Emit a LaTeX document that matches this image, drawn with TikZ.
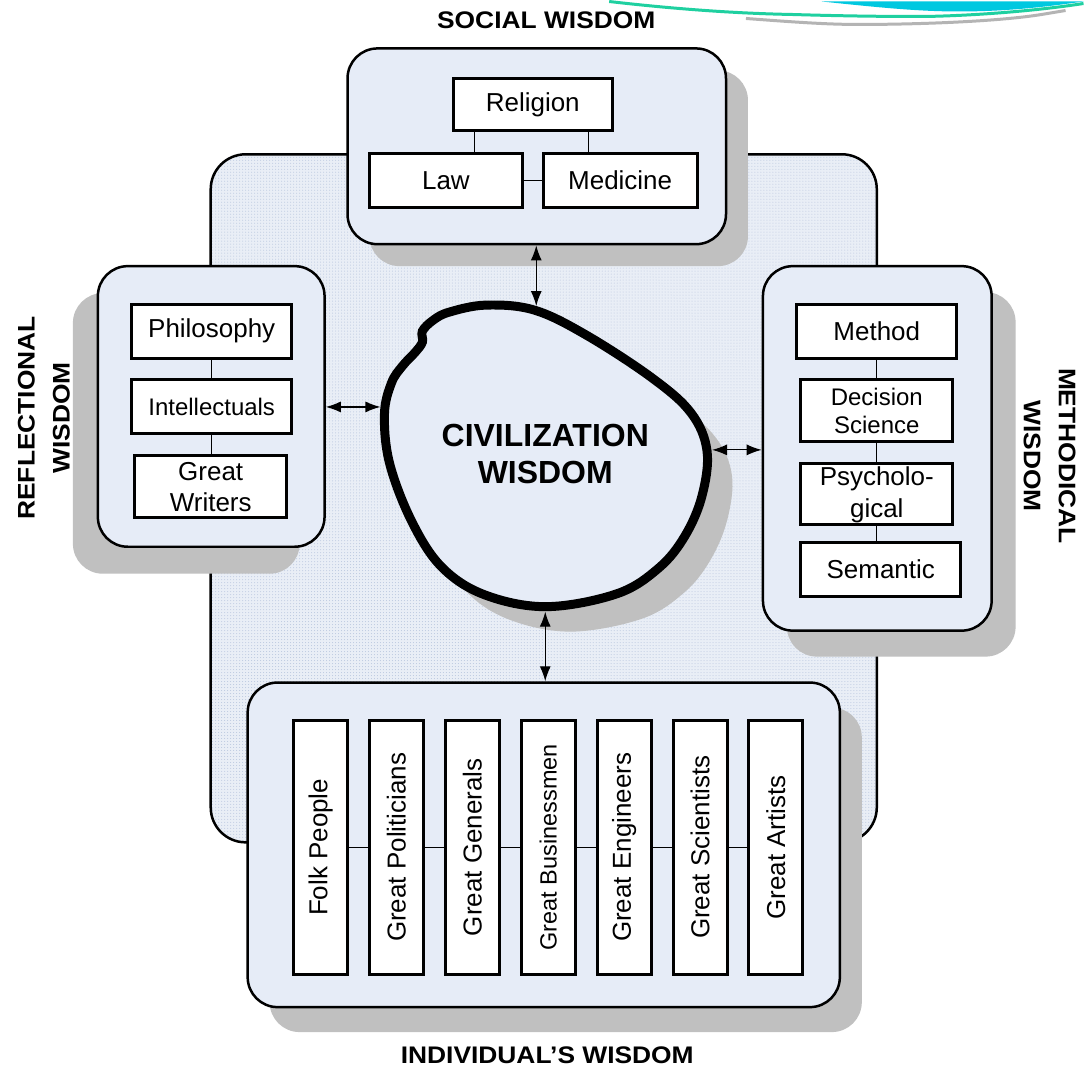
\documentclass[tikz,border=0pt]{standalone}
\usepackage{fontspec}
\setmainfont{Liberation Sans}
\newfontfamily\titlefont[FakeStretch=1.1]{Liberation Sans}
\usetikzlibrary{arrows.meta,shadows,patterns}
\definecolor{panel}{HTML}{E6ECF7}
\definecolor{shadowgray}{HTML}{C0C0C0}
\definecolor{dotback}{HTML}{E9EEF6}
\definecolor{dotfore}{HTML}{B9C6DE}
\definecolor{swcyan}{HTML}{00C8E0}
\definecolor{swgreen}{HTML}{1FD0A0}
\definecolor{swgray}{HTML}{B4B4B4}
\begin{document}
\begin{tikzpicture}[x=1pt, y=-1pt,
    groupbox/.style={draw, line width=2.5pt, fill=panel, rounded corners=30pt, inner sep=0pt},
    itembox/.style={draw, line width=3pt, fill=white, inner sep=0pt, align=center, font=\fontsize{26}{31}\selectfont},
    colbox/.style={itembox, rotate=90, minimum width=254pt, minimum height=54pt},
    heading/.style={font=\titlefont\bfseries\fontsize{24}{35}\selectfont, align=center},
    joint/.style={line width=1.2pt},
    twoway/.style={line width=1.2pt, {Latex[length=15pt,width=11pt]}-{Latex[length=15pt,width=11pt]}}]
      \fill[white] (0,0) rectangle (1085,1074);
      \fill[swcyan] (823,0) .. controls (880,6) and (920,10) .. (960,10) .. controls (1010,10) and (1050,5) .. (1085,0) -- cycle;
      \draw[swgreen, line width=3pt] (610,0) .. controls (680,8) and (740,12) .. (793,13) .. controls (860,15) and (900,15) .. (927,15) .. controls (980,14) and (1040,9) .. (1085,2);
      \draw[swgray, line width=3pt] (747,17) .. controls (800,21) and (830,23) .. (860,23) .. controls (920,23) and (1000,20) .. (1043,13) -- (1067,9);
      %
      \fill[dotback, rounded corners=35pt] (211,153) rectangle (878,842);
      \fill[pattern=dots, pattern color=dotfore, rounded corners=35pt] (211,153) rectangle (878,842);
      \draw[line width=2.5pt, rounded corners=35pt] (211,153) rectangle (878,842);
      %
      \node (socialgroup) [groupbox, minimum width=379pt, minimum height=196pt,
        drop shadow={shadow xshift=22pt, shadow yshift=-22pt, fill=shadowgray, opacity=1}] at (537.5,145) {};
      \node (reflectgroup) [groupbox, minimum width=227pt, minimum height=281pt,
        drop shadow={shadow xshift=-25pt, shadow yshift=-27pt, fill=shadowgray, opacity=1}] at (211.5,405.5) {};
      \node (methodgroup) [groupbox, minimum width=229pt, minimum height=365pt,
        drop shadow={shadow xshift=24pt, shadow yshift=-26pt, fill=shadowgray, opacity=1}] at (878.5,447.5) {};
      \node (indivgroup) [groupbox, minimum width=593pt, minimum height=325pt,
        drop shadow={shadow xshift=22pt, shadow yshift=-25pt, fill=shadowgray, opacity=1}] at (544.5,844.5) {};
      %
      \fill[shadowgray, shift={(25,25)}] plot[smooth cycle, tension=0.6] coordinates {(434,319) (450,311) (487,304) (535,309) (587,334) (653,377) (692,412) (708,450) (703,495) (686,535) (660,567) (618,593) (547,606) (485,594) (442,566) (412,520) (390,462) (385,413) (392,382) (403,365) (416,351) (423,341) (423,330)};
      \draw[line width=9pt, fill=panel] plot[smooth cycle, tension=0.6] coordinates {(434,319) (450,311) (487,304) (535,309) (587,334) (653,377) (692,412) (708,450) (703,495) (686,535) (660,567) (618,593) (547,606) (485,594) (442,566) (412,520) (390,462) (385,413) (392,382) (403,365) (416,351) (423,341) (423,330)};
      \node (civ) [font=\bfseries\fontsize{32}{37}\selectfont, align=center] at (546,453) {CIVILIZATION\\WISDOM};
      \coordinate (civtop) at (537,305);
      \coordinate (civleft) at (381,406);
      \coordinate (civright) at (713,449);
      \coordinate (civbottom) at (546,611);
      %
      \draw[twoway] (civtop |- socialgroup.south) -- (civtop);
      \draw[twoway] (civleft -| reflectgroup.east) -- (civleft);
      \draw[twoway] (civright) -- (civright -| methodgroup.west);
      \draw[twoway] (civbottom) -- (civbottom |- indivgroup.north);
      %
      \node (religion) [itembox, minimum width=159pt, minimum height=52pt] at (533.5,103) {Religion};
      \node (law) [itembox, minimum width=153pt, minimum height=54pt] at (446.5,179) {Law};
      \node (medicine) [itembox, minimum width=154pt, minimum height=54pt] at (621,179) {Medicine};
      \draw[joint] ([xshift=23pt]religion.south west) -- ([xshift=23pt]religion.south west |- law.north);
      \draw[joint] ([xshift=-25pt]religion.south east) -- ([xshift=-25pt]religion.south east |- medicine.north);
      \draw[joint] (law) -- (medicine);
      %
      \node (philosophy) [itembox, minimum width=160pt, minimum height=54pt] at (212,330) {Philosophy};
      \node (intellectuals) [itembox, minimum width=160pt, minimum height=54pt, font=\fontsize{24}{28}\selectfont] at (212,406) {Intellectuals};
      \node (writers) [itembox, minimum width=152pt, minimum height=62pt] at (211,486) {Great\\Writers};
      \draw[joint] (philosophy.south) -- (philosophy.south |- intellectuals.north);
      \draw[joint] (intellectuals.south) -- (intellectuals.south |- writers.north);
      %
      \node (method) [itembox, minimum width=160pt, minimum height=54pt] at (878,330) {Method};
      \node (decision) [itembox, minimum width=152pt, minimum height=62pt, font=\fontsize{24}{28}\selectfont] at (878,410) {Decision\\Science};
      \node (psycho) [itembox, minimum width=152pt, minimum height=61pt, font=\fontsize{26}{32}\selectfont] at (878,493.5) {Psycholo-\\gical};
      \node (semantic) [itembox, minimum width=160pt, minimum height=54pt] at (882,569) {Semantic};
      \draw[joint] (method.south) -- (method.south |- decision.north);
      \draw[joint] (decision.south) -- (decision.south |- psycho.north);
      \draw[joint] (psycho.south) -- (psycho.south |- semantic.north);
      %
      \foreach \name/\label [count=\i from 0] in {folk/Folk People, politicians/Great Politicians,
          generals/Great Generals, businessmen/{\fontsize{23.5}{28}\selectfont Great Businessmen},
          engineers/Great Engineers, scientists/Great Scientists, artists/Great Artists}
        \node (\name) [colbox] at (321+76*\i,847) {\label};
      \foreach \a/\b in {folk/politicians, politicians/generals, generals/businessmen,
          businessmen/engineers, engineers/scientists, scientists/artists}
        \draw[joint] (\a) -- (\b);
      %
      \node (socialtitle) [heading] at (547,19) {SOCIAL WISDOM};
      \node (reflecttitle) [heading, rotate=90] at (44,417) {REFLECTIONAL\\WISDOM};
      \node (methodtitle) [heading, rotate=-90] at (1051,455) {METHODICAL\\WISDOM};
      \node (indivtitle) [heading] at (548,1055) {INDIVIDUAL’S WISDOM};
      %
    \end{tikzpicture}
\end{document}
